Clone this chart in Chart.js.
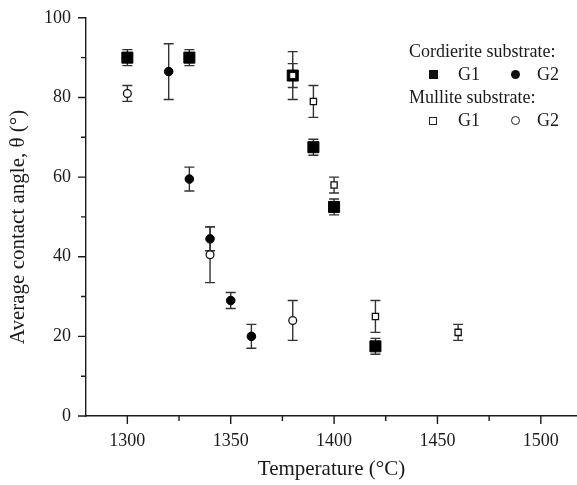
<!DOCTYPE html>
<html lang="en">
<head>
<meta charset="UTF-8">
<title>Average contact angle vs temperature</title>
<script src="https://cdn.jsdelivr.net/npm/chart.js"></script>
<style>
  html, body { margin: 0; padding: 0; background: #fff; }
  .wrap { position: relative; width: 577px; height: 485px; }
  .legend { position: absolute; left: 409px; top: 40px; width: 168px; font-family: 'Liberation Serif', serif; font-size: 18px; color: #1a1a1a; }
  .legend .row { position: relative; height: 23px; line-height: 23px; white-space: nowrap; }
  .legend .lb { position: absolute; top: 0; }
  .legend .mk { position: absolute; box-sizing: border-box; }
  .sq-f { width: 9px; height: 9px; top: 7px; background: #111; }
  .ci-f { width: 9px; height: 9px; top: 7px; background: #111; border-radius: 50%; }
  .sq-o { width: 8px; height: 8px; top: 7.5px; border: 1px solid #222; background: #fff; }
  .ci-o { width: 9px; height: 9px; top: 7px; border: 1px solid #222; background: #fff; border-radius: 50%; }
</style>
</head>
<body>
<div class="wrap">
  <canvas id="angleChart" width="577" height="485"></canvas>
  <div class="legend">
    <div class="row">Cordierite substrate:</div>
    <div class="row">
      <span class="mk sq-f" style="left:19.5px"></span><span class="lb" style="left:49px">G1</span>
      <span class="mk ci-f" style="left:101.5px"></span><span class="lb" style="left:128px">G2</span>
    </div>
    <div class="row">Mullite substrate:</div>
    <div class="row">
      <span class="mk sq-o" style="left:20px"></span><span class="lb" style="left:49px">G1</span>
      <span class="mk ci-o" style="left:101.5px"></span><span class="lb" style="left:128px">G2</span>
    </div>
  </div>
</div>
<script>
// values (temperature in °C, angle and error in degrees)
const cordG1Temp = [1300, 1330, 1380, 1390, 1400, 1420];
const cordG1Angle = [90, 90, 85.5, 67.5, 52.5, 17.5];
const cordG1Err = [2, 2, 3, 2, 2, 2];

const cordG2Temp = [1320, 1330, 1340, 1350, 1360];
const cordG2Angle = [86.5, 59.5, 44.5, 29, 20];
const cordG2Err = [7, 3, 3, 2, 3];

const mullG1Temp = [1380, 1390, 1400, 1420, 1460];
const mullG1Angle = [85.5, 79, 58, 25, 21];
const mullG1Err = [6, 4, 2, 4, 2];

const mullG2Temp = [1300, 1340, 1380];
const mullG2Angle = [81, 40.5, 24];
const mullG2Err = [2, 7, 5];

const xMin = 1280, xMax = 1517.5, xStep = 25, xLabelStep = 50;
const yMin = 0, yMax = 100, yStep = 10, yLabelStep = 20;
const yTitle = 'Average contact angle, θ (°)';

const pts = (t, v) => t.map((x, i) => ({ x: x, y: v[i] }));
const axisColor = '#1a1a1a';
const serif = "'Liberation Serif', 'Times New Roman', serif";

// error bars sit behind the markers
const errorBars = {
  id: 'errorBars',
  beforeDatasetsDraw(chart) {
    const { ctx, scales: { x, y } } = chart;
    ctx.save();
    ctx.strokeStyle = '#333';
    ctx.lineWidth = 1.4;
    chart.data.datasets.forEach(ds => {
      ds.data.forEach((p, i) => {
        const px = x.getPixelForValue(p.x);
        const top = y.getPixelForValue(p.y + ds.err[i]);
        const bot = y.getPixelForValue(p.y - ds.err[i]);
        ctx.beginPath();
        ctx.moveTo(px, top); ctx.lineTo(px, bot);
        ctx.moveTo(px - 5, top); ctx.lineTo(px + 5, top);
        ctx.moveTo(px - 5, bot); ctx.lineTo(px + 5, bot);
        ctx.stroke();
      });
    });
    ctx.restore();
  }
};

// outward tick marks, short ones for the unlabelled steps, plus the y title
// (drawn here because it sits a little below the middle of the axis)
const axisExtras = {
  id: 'axisExtras',
  afterDraw(chart) {
    const { ctx, chartArea, scales: { x, y } } = chart;
    ctx.save();
    ctx.strokeStyle = axisColor;
    ctx.lineWidth = 1.4;
    ctx.beginPath();
    x.ticks.forEach(t => {
      const px = x.getPixelForValue(t.value);
      const len = t.value % xLabelStep === 0 ? 8 : 5;
      ctx.moveTo(px, chartArea.bottom);
      ctx.lineTo(px, chartArea.bottom + len);
    });
    y.ticks.forEach(t => {
      const py = y.getPixelForValue(t.value);
      const len = t.value % yLabelStep === 0 ? 8 : 5;
      ctx.moveTo(chartArea.left, py);
      ctx.lineTo(chartArea.left - len, py);
    });
    ctx.stroke();

    ctx.translate(18, 227);
    ctx.rotate(-Math.PI / 2);
    ctx.fillStyle = axisColor;
    ctx.font = '21px ' + serif;
    ctx.textAlign = 'center';
    ctx.textBaseline = 'middle';
    ctx.fillText(yTitle, 0, 0);
    ctx.restore();
  }
};

const hiddenGrid = { drawOnChartArea: false, drawTicks: true, tickLength: 8, color: 'rgba(0,0,0,0)' };

new Chart('angleChart', {
  type: 'scatter',
  data: {
    datasets: [
      { label: 'Mullite G1', data: pts(mullG1Temp, mullG1Angle), err: mullG1Err, order: 0,
        pointStyle: 'rect', pointRadius: 4.4, borderWidth: 1.3, borderColor: '#111', backgroundColor: '#fff' },
      { label: 'Mullite G2', data: pts(mullG2Temp, mullG2Angle), err: mullG2Err, order: 1,
        pointStyle: 'circle', pointRadius: 3.9, borderWidth: 1.3, borderColor: '#111', backgroundColor: '#fff' },
      { label: 'Cordierite G1', data: pts(cordG1Temp, cordG1Angle), err: cordG1Err, order: 2,
        pointStyle: 'rect', pointRadius: 7.8, borderWidth: 1, borderColor: '#000', backgroundColor: '#000' },
      { label: 'Cordierite G2', data: pts(cordG2Temp, cordG2Angle), err: cordG2Err, order: 3,
        pointStyle: 'circle', pointRadius: 4.3, borderWidth: 1, borderColor: '#000', backgroundColor: '#000' }
    ]
  },
  options: {
    responsive: false,
    animation: false,
    layout: { autoPadding: false, padding: { left: 0, top: 15, right: 0, bottom: 0 } },
    plugins: { legend: { display: false }, tooltip: { enabled: false } },
    elements: { point: { hoverRadius: 0 } },
    scales: {
      x: {
        type: 'linear', min: xMin, max: xMax,
        afterBuildTicks: s => { s.ticks = s.ticks.filter(t => t.value % xStep === 0); },
        afterFit: s => { s.height = 69; s.paddingLeft = 0; s.paddingRight = 0; },
        ticks: { stepSize: xStep, includeBounds: false, autoSkip: false, maxRotation: 0, padding: 6, color: axisColor,
          font: { family: serif, size: 18 },
          callback: v => (v % xLabelStep === 0 ? v : '') },
        grid: hiddenGrid,
        border: { color: axisColor, width: 1.4 },
        title: { display: true, text: 'Temperature (°C)', color: axisColor,
          font: { family: serif, size: 21 }, padding: { top: 0, bottom: 3 } }
      },
      y: {
        min: yMin, max: yMax,
        afterBuildTicks: s => { s.ticks = s.ticks.filter(t => t.value % yStep === 0); },
        afterFit: s => { s.width = 86; },
        ticks: { stepSize: yStep, includeBounds: false, autoSkip: false, padding: 7, color: axisColor,
          font: { family: serif, size: 18 },
          callback: v => (v % yLabelStep === 0 ? v : '') },
        grid: hiddenGrid,
        border: { color: axisColor, width: 1.4 },
        title: { display: false }
      }
    }
  },
  plugins: [errorBars, axisExtras]
});
</script>
</body>
</html>
